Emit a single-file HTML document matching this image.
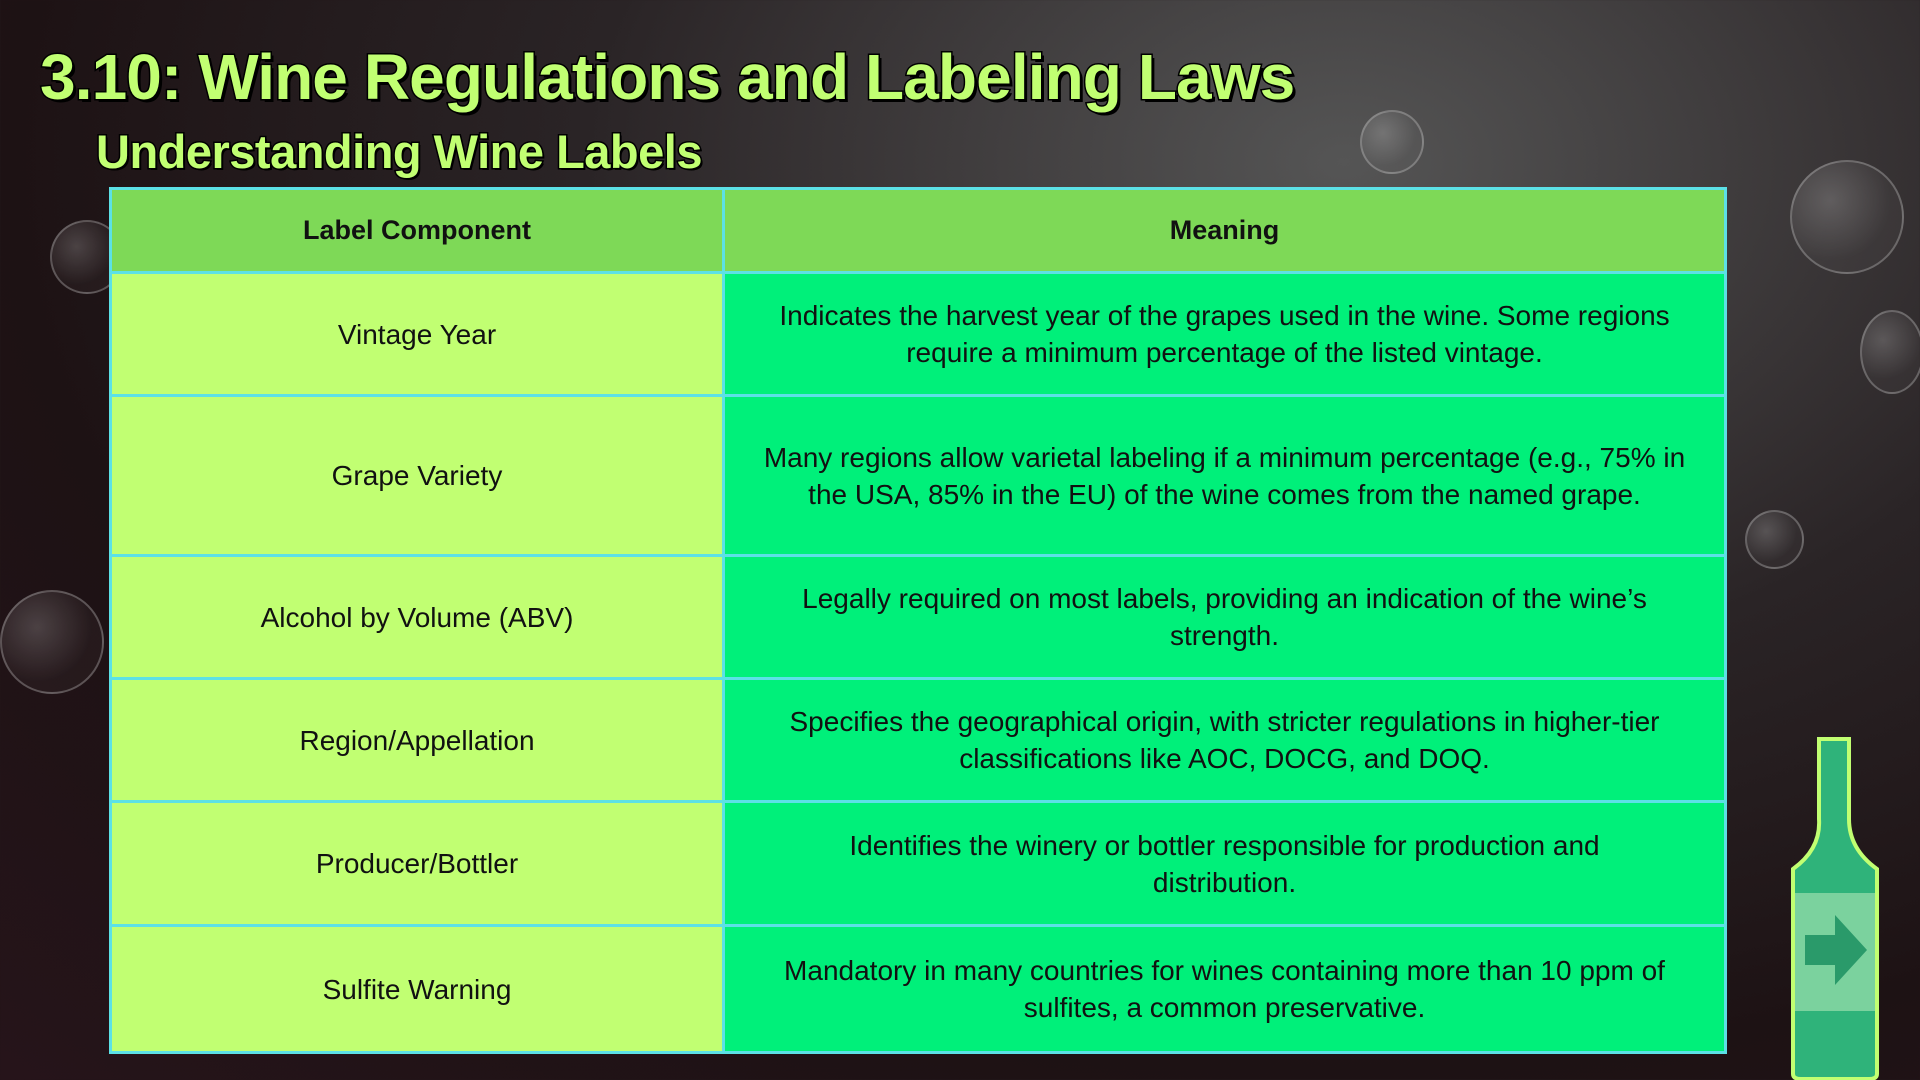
<!DOCTYPE html>
<html><head><meta charset="utf-8"><style>
html,body{margin:0;padding:0}
body{width:1920px;height:1080px;overflow:hidden;position:relative;font-family:"Liberation Sans",sans-serif;
background:radial-gradient(ellipse at 70% 15%,#555 0%,#2a2426 40%,#1d1214 70%,#26141a 100%);}
.bub{position:absolute;border-radius:50%;border:2px solid rgba(220,220,220,.3);background:radial-gradient(circle at 35% 35%,rgba(255,255,255,.2),rgba(255,255,255,.03) 60%)}
h1{position:absolute;left:40px;top:40px;margin:0;font-size:64px;font-weight:bold;color:#c1ff72;letter-spacing:-0.9px;
-webkit-text-stroke:3px #000;paint-order:stroke fill;text-shadow:3px 3px 0 #000;white-space:nowrap}
h2{position:absolute;left:96px;top:124px;margin:0;font-size:47px;font-weight:bold;color:#c1ff72;letter-spacing:-0.5px;
-webkit-text-stroke:3px #000;paint-order:stroke fill;text-shadow:2px 2px 0 #000;white-space:nowrap}
table{position:absolute;left:109px;top:187px;width:1618px;height:867px;border-collapse:collapse}
td,th{border:3px solid #5ce1e6;text-align:center;color:#111;font-size:28px;padding:0 30px;line-height:37px}
th{background:#7ed957;font-weight:bold;height:81px;font-size:27px}
td.l{background:#c1ff72;width:550px}
td.r{background:#00f07a}
</style></head><body>
<div class="bub" style="left:50px;top:220px;width:70px;height:70px"></div>
<div class="bub" style="left:0;top:590px;width:100px;height:100px"></div>
<div class="bub" style="left:1790px;top:160px;width:110px;height:110px"></div>
<div class="bub" style="left:1860px;top:310px;width:60px;height:80px"></div>
<div class="bub" style="left:1360px;top:110px;width:60px;height:60px"></div>
<div class="bub" style="left:1745px;top:510px;width:55px;height:55px"></div>
<h1>3.10: Wine Regulations and Labeling Laws</h1>
<h2>Understanding Wine Labels</h2>
<table>
<tr><th>Label Component</th><th>Meaning</th></tr>
<tr style="height:123px"><td class="l">Vintage Year</td><td class="r">Indicates the harvest year of the grapes used in the wine. Some regions require a minimum percentage of the listed vintage.</td></tr>
<tr style="height:160px"><td class="l">Grape Variety</td><td class="r">Many regions allow varietal labeling if a minimum percentage (e.g., 75% in the USA, 85% in the EU) of the wine comes from the named grape.</td></tr>
<tr style="height:123px"><td class="l">Alcohol by Volume (ABV)</td><td class="r">Legally required on most labels, providing an indication of the wine’s strength.</td></tr>
<tr style="height:123px"><td class="l">Region/Appellation</td><td class="r">Specifies the geographical origin, with stricter regulations in higher-tier classifications like AOC, DOCG, and DOQ.</td></tr>
<tr style="height:124px"><td class="l">Producer/Bottler</td><td class="r">Identifies the winery or bottler responsible for production and<br>distribution.</td></tr>
<tr style="height:127px"><td class="l">Sulfite Warning</td><td class="r">Mandatory in many countries for wines containing more than 10 ppm of sulfites, a common preservative.</td></tr>
</table>
<svg style="position:absolute;left:1785px;top:735px" width="100" height="345">
<path d="M34 4 h30 v80 q0 30 28 50 v205 q0 5 -8 5 h-68 q-8 0 -8 -5 v-205 q28 -20 26 -50z" fill="#2fb37a" stroke="#c1ff72" stroke-width="4"/>
<rect x="10" y="158" width="80" height="118" fill="#8fd9a8" opacity=".8"/>
<path d="M20 200 h30 v-20 l32 35 l-32 35 v-20 h-30z" fill="#2a9a6a"/>
</svg>
</body></html>
